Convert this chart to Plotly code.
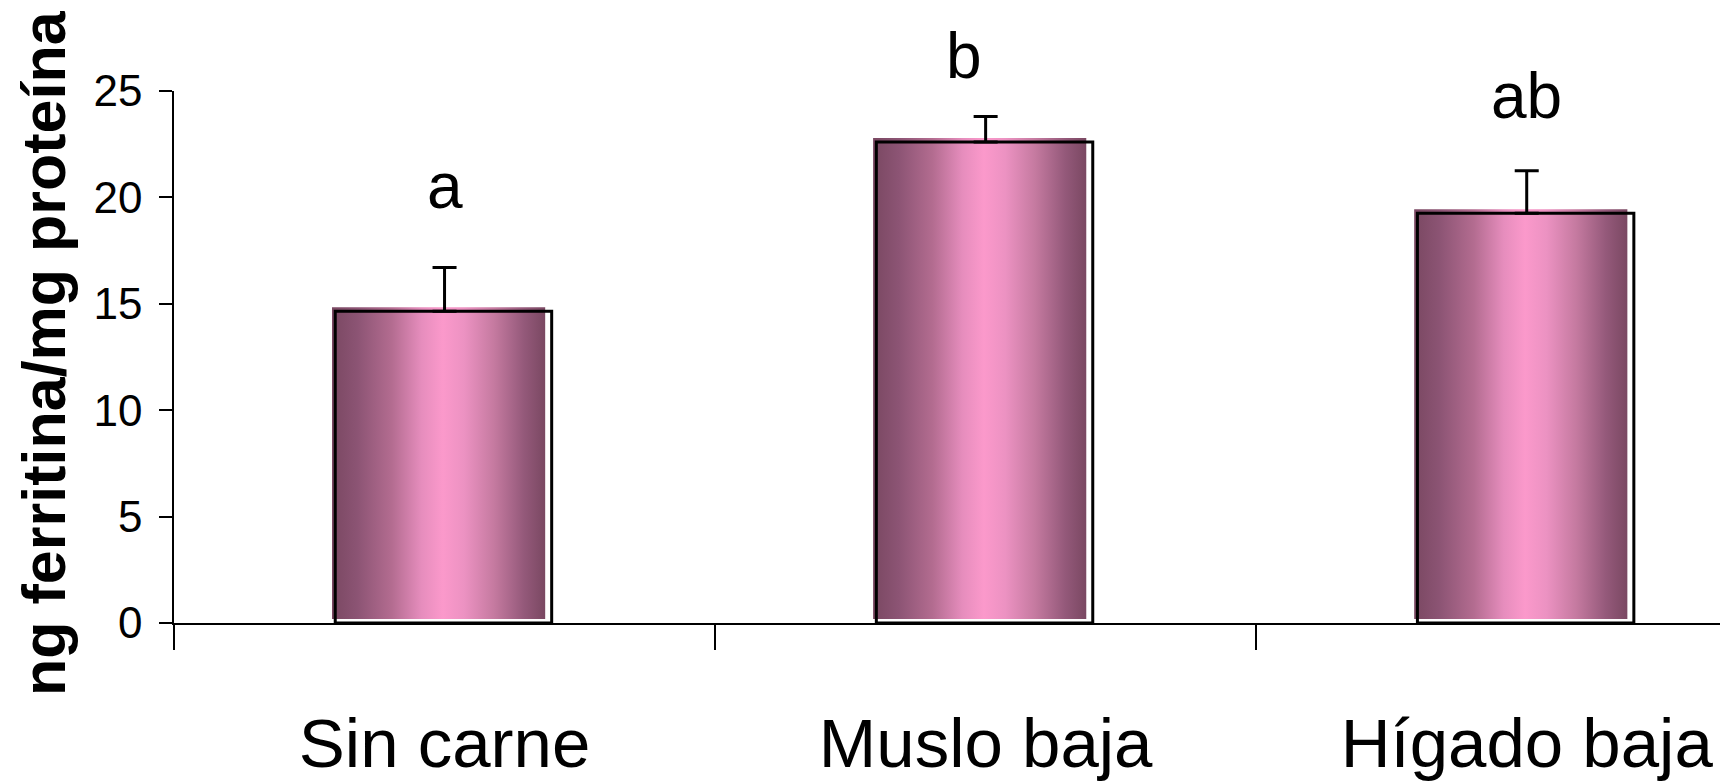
import plotly.graph_objects as go

# ---- data ----
categories = ["Sin carne", "Muslo baja", "Hígado baja"]
values = [14.65, 22.6, 19.25]
errors = [2.05, 1.2, 2.0]
letters = ["a", "b", "ab"]
letter_x = [0.0, 0.96, 2.0]
letter_y = [18.75, 24.85, 23.0]
y_ticks = [0, 5, 10, 15, 20, 25]
y_title = "ng ferritina/mg proteína"

# ---- style ----
Y_MAX = 25
BAR_W = 0.40
PINK_DX = -0.008      # pink face shifted left
PINK_DY = 0.19        # pink face shifted up
gradient = [
    [0.00, "#7a4862"], [0.12, "#8c5474"], [0.28, "#b36c90"],
    [0.42, "#e68dbd"], [0.52, "#fb99cb"], [0.62, "#ec92c2"],
    [0.76, "#c57aa0"], [0.90, "#94597a"], [1.00, "#7a4862"],
]
FONT = "Liberation Sans, Arial, Helvetica, sans-serif"

fig = go.Figure()

for i, (cat, v) in enumerate(zip(categories, values)):
    x0 = i - BAR_W / 2 + PINK_DX
    x1 = i + BAR_W / 2 + PINK_DX - 0.006
    fig.add_trace(go.Scatter(
        x=[x0, x1, x1, x0, x0],
        y=[PINK_DY, PINK_DY, v + PINK_DY, v + PINK_DY, PINK_DY],
        mode="lines", fill="toself", line=dict(width=0),
        fillgradient=dict(type="horizontal", colorscale=gradient),
        hoverinfo="skip", showlegend=False,
    ))

for i, v in enumerate(values):
    x0 = i - BAR_W / 2 - 0.002
    x1 = i + BAR_W / 2 - 0.002
    fig.add_trace(go.Scatter(
        x=[x0, x1, x1, x0, x0], y=[0, 0, v, v, 0],
        mode="lines", line=dict(color="black", width=3),
        hoverinfo="skip", showlegend=False,
    ))

fig.add_trace(go.Scatter(
    x=list(range(len(categories))), y=values, mode="markers",
    marker=dict(size=1, color="rgba(0,0,0,0)"),
    error_y=dict(type="data", array=errors, arrayminus=[0] * len(errors),
                 symmetric=False, color="black", thickness=3, width=12),
    showlegend=False, hoverinfo="skip",
))

for lx, ly, t in zip(letter_x, letter_y, letters):
    fig.add_annotation(x=lx, xref="x", y=ly / Y_MAX, yref="paper", text=t,
                       showarrow=False, yanchor="bottom",
                       font=dict(family=FONT, size=64, color="black"))

fig.add_annotation(xref="paper", yref="paper", x=-0.0837, y=0.5075,
                   text=y_title, textangle=-90, showarrow=False,
                   xanchor="center", yanchor="middle",
                   font=dict(family=FONT, size=61, color="black", weight="bold"))

fig.update_layout(
    width=1728, height=782,
    margin=dict(l=166, r=8, t=83, b=167),
    paper_bgcolor="white", plot_bgcolor="white",
    showlegend=False,
    xaxis=dict(
        range=[-0.5, 2.372], tickmode="array",
        tickvals=list(range(len(categories))), ticktext=categories,
        ticks="", showgrid=False, zeroline=False,
        showline=True, linecolor="black", linewidth=1.5,
        tickfont=dict(family=FONT, size=69, color="black"),
        ticklabelstandoff=59,
        minor=dict(tickmode="array", tickvals=[-0.5, 0.5, 1.5], ticks="outside",
                   ticklen=25, tickwidth=1.5, tickcolor="black", showgrid=False),
    ),
    yaxis=dict(
        range=[0, Y_MAX], tickmode="array", tickvals=y_ticks,
        ticks="outside", ticklen=13, tickwidth=1.5, tickcolor="black",
        showgrid=False, zeroline=False,
        showline=True, linecolor="black", linewidth=1.5,
        tickfont=dict(family=FONT, size=44, color="black"),
        ticklabelstandoff=8,
    ),
)

fig.write_html("out.html")
